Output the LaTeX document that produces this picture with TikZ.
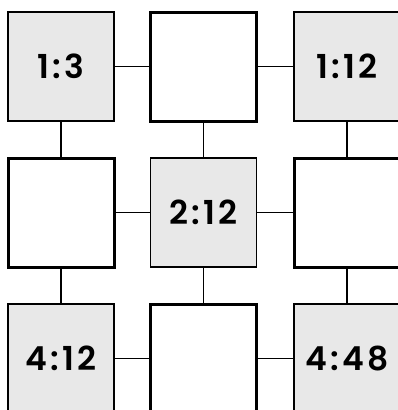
\documentclass[tikz,border=0pt]{standalone}
\usepackage{fontspec}
\setmainfont{Poppins}
\newfontfamily\cellfont{Poppins}[LetterSpace=10, BoldFont={Poppins SemiBold}]
\begin{document}
\begin{tikzpicture}[
    x=1pt, y=-1pt,
    cell/.style={draw, rectangle, minimum width=106pt, minimum height=109pt,
                 inner sep=0pt, outer sep=0pt},
    full/.style={cell, fill=black!9, line width=1.6pt,
                 font=\cellfont\fontsize{33}{36}\selectfont\bfseries},
    empty/.style={cell, fill=white, line width=3pt},
    link/.style={draw, line width=1.4pt}
]
\path[use as bounding box, clip] (0,0) rectangle (398,410);

% Zellen
\node[full]  (c11) at (61,66.5)    {1:3};
\node[empty] (c12) at (203.5,66.5) {};
\node[full]  (c13) at (347,66.5)   {1:12};
\node[empty] (c21) at (61,212.5)   {};
\node[full]  (c22) at (203.5,212.5) {2:12};
\node[empty] (c23) at (347,212.5)  {};
\node[full]  (c31) at (61,358.5)   {4:12};
\node[empty] (c32) at (203.5,358.5) {};
\node[full]  (c33) at (347,358.5)  {4:48};

% Verbindungen
\foreach \r in {1,2,3} {
    \draw[link] (c\r1.east) -- (c\r2.west);
    \draw[link] (c\r2.east) -- (c\r3.west);
}
\foreach \c in {1,2,3} {
    \draw[link] (c1\c.south) -- (c2\c.north);
    \draw[link] (c2\c.south) -- (c3\c.north);
}

\end{tikzpicture}
\end{document}
